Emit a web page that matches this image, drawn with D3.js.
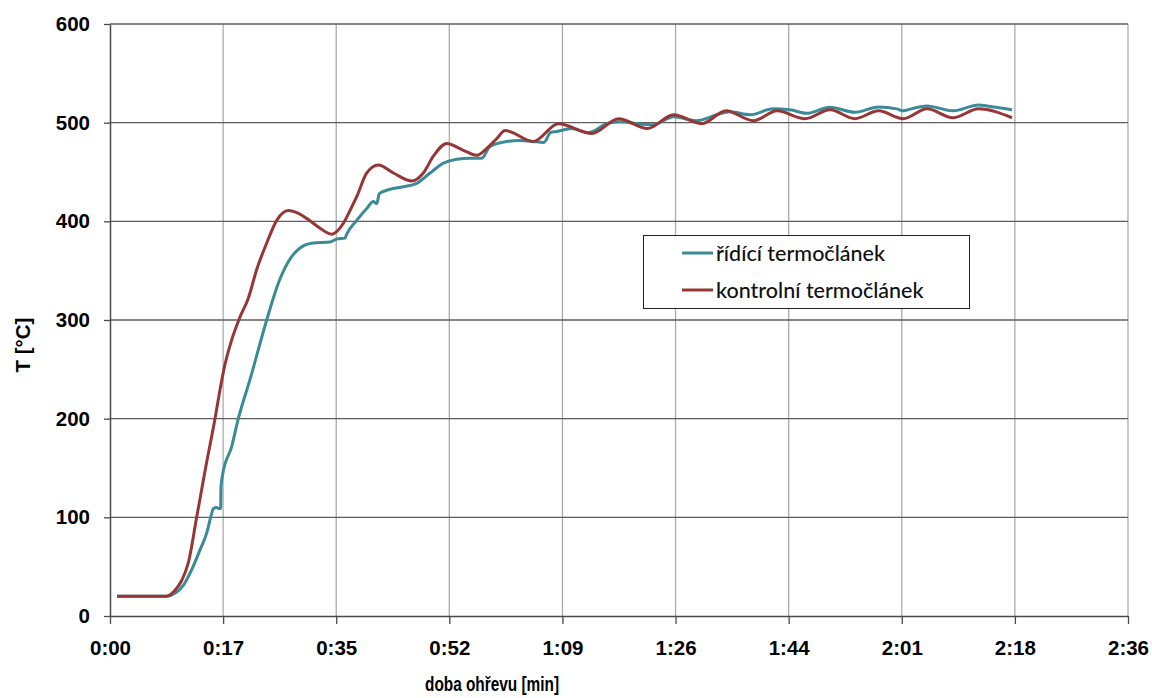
<!DOCTYPE html>
<html>
<head>
<meta charset="utf-8">
<script src="https://cdn.jsdelivr.net/npm/d3@7"></script>
<style>
  html, body { margin: 0; padding: 0; background: #fff; }
  svg { display: block; }
</style>
</head>
<body>
<svg id="chart" width="1152" height="698"></svg>
<script>
// ---- data (time in minutes, temperature in °C) ----
const seriesNames = ["řídící termočlánek", "kontrolní termočlánek"];
const seriesColors = ["#3A8A97", "#963736"];

const ridiciTime = [1.07, 8.66, 9.93, 11.2, 12.48, 13.75, 14.77, 15.54, 15.79, 16.3, 16.6, 16.9, 16.96, 17.2, 18.6, 19.6, 21.4, 23.94, 25.7, 27.24, 29.03, 31.06, 33.6, 34.6, 35.9, 36.16, 37.69, 39.22, 40.23, 40.75, 41.15, 42.52, 44.81, 46.86, 48.9, 50.93, 52.97, 55, 56.8, 58.06, 60.6, 62.6, 64.5, 66.3, 67.3, 68.25, 70.5, 73.1, 75.9, 77.9, 80.5, 83, 86.1, 89.6, 92.7, 94.7, 97.8, 101.3, 103.9, 106.4, 110, 113.8, 117.4, 120.2, 121.2, 121.8, 124.8, 128.8, 132.7, 134, 137.8];
const ridiciTemp = [20, 20, 23, 31, 47, 67, 84, 104, 109, 110, 109, 109, 131, 143, 172, 200, 240, 300, 337, 359, 373, 378, 379, 382, 383, 387, 401, 413, 420, 418, 428, 432, 435, 438.5, 449, 459, 463, 464, 464, 476, 481, 482, 481, 480, 490, 491, 494, 490, 499, 501, 499, 498, 506, 502, 508, 511, 508, 514, 513, 509.5, 515.6, 510.5, 516, 514, 512, 513, 517, 512, 518, 517, 513];

const kontrolniTime = [1.07, 8.66, 9.93, 10.95, 11.97, 13.24, 14.6, 16.04, 16.8, 17.4, 18.6, 19.86, 21.13, 22.4, 23.94, 25.47, 27.24, 28.8, 30.05, 32.09, 33.87, 35.65, 36.67, 37.69, 39.22, 41.0, 43.29, 46.1, 47.87, 49.4, 51.44, 53.98, 56.03, 57.56, 59.1, 60.35, 64.68, 68.5, 73.6, 77.7, 82.1, 86.1, 90.4, 94.1, 98.3, 101.9, 106.2, 110, 113.8, 117.4, 121.2, 124.8, 128.8, 132.7, 137.8];
const kontrolniTemp = [20, 20, 26, 36, 54, 100, 150, 200, 229, 250, 280, 303, 322, 351, 378, 401, 411, 408, 403, 393, 387, 398, 411, 425, 449, 457, 449, 441, 449, 466, 479, 472, 467, 474, 484, 492, 481, 499, 489, 504, 494, 508, 499, 512, 502, 512, 504, 513, 504, 512, 504, 514, 505, 514, 505];

const xTickStep = 17.28;                 // minutes between x ticks
const xTickValues = d3.range(0, 10).map(i => i * xTickStep);
const yTickValues = [0, 100, 200, 300, 400, 500, 600];
const xTitle = "doba ohřevu [min]";
const yTitle = "T [°C]";

(function () {
// ---- layout ----
const pL = 110, pR = 1128, pT = 24, pB = 616;
const svg = d3.select("#chart");

const x = d3.scaleLinear().domain([0, 9 * xTickStep]).range([pL, pR]);
const y = d3.scaleLinear().domain([0, 600]).range([pB, pT]);

const fmtTime = v => {
  const m = Math.round(v);
  return Math.floor(m / 60) + ":" + String(m % 60).padStart(2, "0");
};

// vertical gridlines
svg.append("g").selectAll("line").data(xTickValues.slice(1)).join("line")
  .attr("x1", d => x(d)).attr("x2", d => x(d))
  .attr("y1", pT).attr("y2", pB)
  .attr("stroke", "#ababab").attr("stroke-width", 1.3);

// horizontal gridlines
svg.append("g").selectAll("line").data(yTickValues.slice(1)).join("line")
  .attr("x1", pL).attr("x2", pR)
  .attr("y1", d => y(d)).attr("y2", d => y(d))
  .attr("stroke", "#5e5e5e").attr("stroke-width", 1.3);

// axes
const xAxis = svg.append("g").attr("transform", `translate(0,${pB})`)
  .call(d3.axisBottom(x).tickValues(xTickValues).tickFormat(fmtTime).tickSizeInner(8).tickSizeOuter(0).tickPadding(16));
const yAxis = svg.append("g").attr("transform", `translate(${pL},0)`)
  .call(d3.axisLeft(y).tickValues(yTickValues).tickSizeInner(6).tickSizeOuter(0).tickPadding(14));

[xAxis, yAxis].forEach(g => {
  g.select(".domain").attr("stroke", "#4a4a4a").attr("stroke-width", 1.5);
  g.selectAll(".tick line").attr("stroke", "#4a4a4a").attr("stroke-width", 1.3);
  g.selectAll(".tick text")
    .attr("fill", "#000")
    .style("font-family", "'Liberation Sans', Arial, sans-serif")
    .style("font-weight", "bold")
    .style("font-size", "20.5px");
});
xAxis.selectAll(".tick text").attr("dy", "0.71em");

// axis titles
svg.append("text")
  .attr("x", 492).attr("y", 691)
  .attr("text-anchor", "middle")
  .attr("textLength", 134).attr("lengthAdjust", "spacingAndGlyphs")
  .style("font-family", "'Liberation Sans', Arial, sans-serif")
  .style("font-weight", "bold").style("font-size", "20px")
  .text(xTitle);

svg.append("text")
  .attr("transform", "translate(30,345) rotate(-90)")
  .attr("text-anchor", "middle")
  .style("font-family", "'Liberation Sans', Arial, sans-serif")
  .style("font-weight", "bold").style("font-size", "20.5px")
  .text(yTitle);

// series
const line = d3.line().x(d => x(d[0])).y(d => y(d[1])).curve(d3.curveMonotoneX);
const series = [
  d3.zip(ridiciTime, ridiciTemp),
  d3.zip(kontrolniTime, kontrolniTemp)
];
svg.append("g").selectAll("path").data(series).join("path")
  .attr("d", line)
  .attr("fill", "none")
  .attr("stroke", (d, i) => seriesColors[i])
  .attr("stroke-width", 3)
  .attr("stroke-linejoin", "round");

// legend
const lg = svg.append("g");
lg.append("rect")
  .attr("x", 643.5).attr("y", 235.5).attr("width", 326).attr("height", 73)
  .attr("fill", "#fff").attr("stroke", "#222").attr("stroke-width", 1);
seriesNames.forEach((name, i) => {
  const cy = 253 + i * 37;
  lg.append("line").attr("x1", 682).attr("x2", 713).attr("y1", cy).attr("y2", cy)
    .attr("stroke", seriesColors[i]).attr("stroke-width", 3);
  lg.append("text").attr("x", 716).attr("y", cy).attr("dy", "0.36em")
    .style("font-family", "Lato, 'Open Sans', sans-serif")
    .style("font-size", "21.5px").style("font-weight", "500").attr("fill", "#111")
    .text(name);
});
})();
</script>
</body>
</html>
